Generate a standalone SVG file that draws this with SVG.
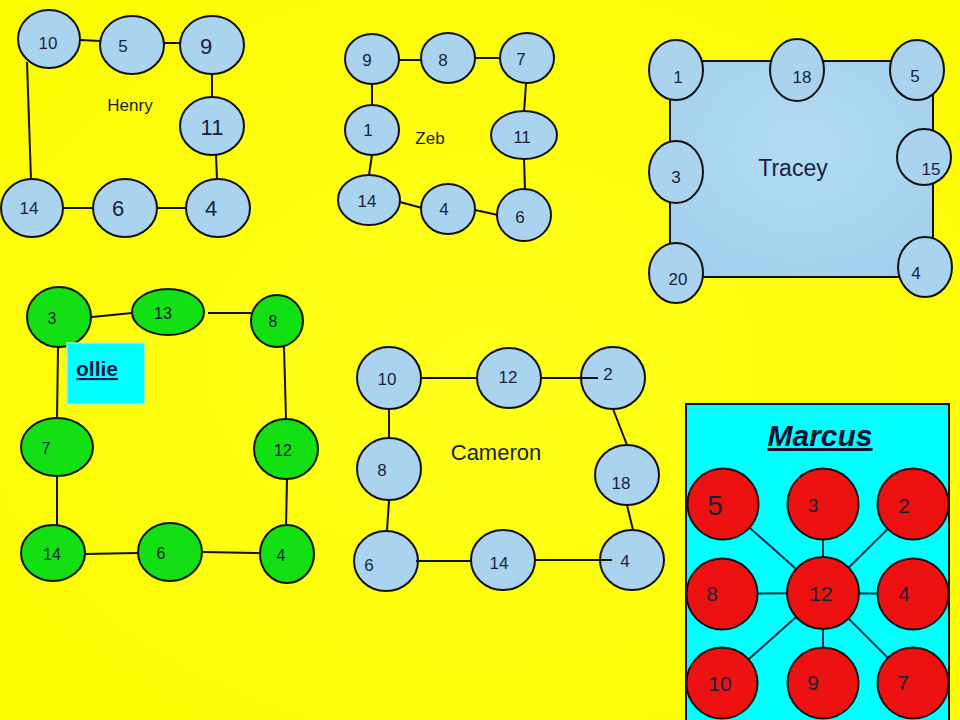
<svg xmlns="http://www.w3.org/2000/svg" width="960" height="720" viewBox="0 0 960 720">
<defs>
<radialGradient id="bg" cx="50%" cy="50%" r="70%">
<stop offset="0" stop-color="#ffff1a"/>
<stop offset="1" stop-color="#fbfb00"/>
</radialGradient>
<radialGradient id="tr" cx="50%" cy="40%" r="70%">
<stop offset="0" stop-color="#b2dcf4"/>
<stop offset="1" stop-color="#a2cfec"/>
</radialGradient>
</defs>
<style>
text{font-family:"Liberation Sans",Arial,sans-serif;fill:#1b1f3a;text-anchor:middle}
.b{fill:#a9d3ef;stroke:#111;stroke-width:2}
.g{fill:#12e012;stroke:#111;stroke-width:2}
.r{fill:#ee1111;stroke:#111;stroke-width:2}
.e line{stroke:#111;stroke-width:2}
.m line{stroke:#14324a;stroke-width:2}
.s{font-size:17px}
.L{font-size:22px}
.o{font-size:16px}
.mk{font-size:21px}
</style>
<rect width="960" height="720" fill="url(#bg)"/>

<!-- Henry -->
<g id="henry-edges" class="e">
<line x1="80" y1="40" x2="100" y2="41"/>
<line x1="163" y1="43" x2="180" y2="43"/>
<line x1="212" y1="74" x2="212" y2="97"/>
<line x1="216" y1="155" x2="217" y2="180"/>
<line x1="157" y1="208" x2="186" y2="208"/>
<line x1="63" y1="208" x2="93" y2="208"/>
<line x1="27" y1="62" x2="31" y2="180"/>
</g>
<g id="henry-10"><ellipse class="b" cx="49" cy="39" rx="31" ry="29"/><text class="s" x="48" y="49">10</text></g>
<g id="henry-5"><ellipse class="b" cx="132" cy="45" rx="32" ry="29"/><text class="s" x="123" y="52">5</text></g>
<g id="henry-9"><ellipse class="b" cx="212" cy="45" rx="32" ry="29"/><text class="L" x="206" y="54">9</text></g>
<g id="henry-11"><ellipse class="b" cx="212" cy="126" rx="32" ry="29"/><text class="L" x="212" y="135">11</text></g>
<g id="henry-4"><ellipse class="b" cx="218" cy="208" rx="32" ry="29"/><text class="L" x="211" y="216">4</text></g>
<g id="henry-6"><ellipse class="b" cx="125" cy="208" rx="32" ry="29"/><text class="L" x="118" y="216">6</text></g>
<g id="henry-14"><ellipse class="b" cx="32" cy="208" rx="31" ry="29"/><text class="s" x="29" y="214">14</text></g>
<text class="s" x="130" y="111">Henry</text>

<!-- Zeb -->
<g id="zeb-edges" class="e">
<line x1="399" y1="60" x2="421" y2="60"/>
<line x1="474" y1="58" x2="500" y2="58"/>
<line x1="526" y1="84" x2="524" y2="112"/>
<line x1="372" y1="84" x2="372" y2="104"/>
<line x1="372" y1="155" x2="369" y2="175"/>
<line x1="400" y1="202" x2="422" y2="208"/>
<line x1="475" y1="210" x2="498" y2="215"/>
<line x1="524" y1="159" x2="525" y2="190"/>
</g>
<g id="zeb-9"><ellipse class="b" cx="372" cy="59" rx="27" ry="25"/><text class="s" x="367" y="66">9</text></g>
<g id="zeb-8"><ellipse class="b" cx="448" cy="58" rx="27" ry="25"/><text class="s" x="443" y="66">8</text></g>
<g id="zeb-7"><ellipse class="b" cx="527" cy="58" rx="27" ry="25"/><text class="s" x="521" y="65">7</text></g>
<g id="zeb-1"><ellipse class="b" cx="372" cy="130" rx="27" ry="25"/><text class="s" x="368" y="136">1</text></g>
<g id="zeb-11"><ellipse class="b" cx="524" cy="135" rx="33" ry="24"/><text class="s" x="522" y="143">11</text></g>
<g id="zeb-14"><ellipse class="b" cx="369" cy="200" rx="31" ry="25"/><text class="s" x="367" y="207">14</text></g>
<g id="zeb-4"><ellipse class="b" cx="448" cy="209" rx="27" ry="25"/><text class="s" x="444" y="215">4</text></g>
<g id="zeb-6"><ellipse class="b" cx="524" cy="215" rx="27" ry="26"/><text class="s" x="520" y="223">6</text></g>
<text class="s" x="430" y="144">Zeb</text>

<!-- Tracey -->
<g id="tracey-area"><rect x="670" y="61" width="263" height="216" fill="url(#tr)" stroke="#111" stroke-width="2"/><text x="793" y="176" style="font-size:23px">Tracey</text></g>
<g id="tracey-1"><ellipse class="b" cx="676" cy="70" rx="27" ry="30"/><text class="s" x="678" y="83">1</text></g>
<g id="tracey-18"><ellipse class="b" cx="797" cy="70" rx="27" ry="31"/><text class="s" x="802" y="83">18</text></g>
<g id="tracey-5"><ellipse class="b" cx="917" cy="70" rx="27" ry="30"/><text class="s" x="915" y="82">5</text></g>
<g id="tracey-3"><ellipse class="b" cx="676" cy="172" rx="27" ry="31"/><text class="s" x="676" y="183">3</text></g>
<g id="tracey-15"><ellipse class="b" cx="924" cy="157" rx="27" ry="28"/><text class="s" x="931" y="175">15</text></g>
<g id="tracey-20"><ellipse class="b" cx="676" cy="273" rx="27" ry="30"/><text class="s" x="678" y="285">20</text></g>
<g id="tracey-4"><ellipse class="b" cx="925" cy="267" rx="27" ry="30"/><text class="s" x="916" y="279">4</text></g>

<!-- ollie -->
<g id="ollie-edges" class="e">
<line x1="92" y1="317" x2="132" y2="313"/>
<line x1="208" y1="313" x2="251" y2="313"/>
<line x1="58" y1="348" x2="57" y2="418"/>
<line x1="284" y1="347" x2="286" y2="419"/>
<line x1="57" y1="477" x2="57" y2="525"/>
<line x1="287" y1="479" x2="286" y2="527"/>
<line x1="85" y1="554" x2="138" y2="553"/>
<line x1="202" y1="552" x2="260" y2="553"/>
</g>
<g id="ollie-3"><ellipse class="g" cx="59" cy="317" rx="32" ry="30"/><text class="o" x="52" y="324">3</text></g>
<g id="ollie-13"><ellipse class="g" cx="168" cy="312" rx="36" ry="23"/><text class="o" x="163" y="319">13</text></g>
<g id="ollie-8"><ellipse class="g" cx="277" cy="321" rx="26" ry="26"/><text class="o" x="273" y="327">8</text></g>
<g id="ollie-7"><ellipse class="g" cx="57" cy="447" rx="36" ry="29"/><text class="o" x="46" y="454">7</text></g>
<g id="ollie-12"><ellipse class="g" cx="286" cy="449" rx="32" ry="30"/><text class="o" x="283" y="456">12</text></g>
<g id="ollie-14"><ellipse class="g" cx="53" cy="553" rx="32" ry="28"/><text class="o" x="52" y="560">14</text></g>
<g id="ollie-6"><ellipse class="g" cx="170" cy="552" rx="32" ry="29"/><text class="o" x="161" y="559">6</text></g>
<g id="ollie-4"><ellipse class="g" cx="287" cy="554" rx="27" ry="29"/><text class="o" x="281" y="561">4</text></g>
<g id="ollie-label"><rect x="67" y="343" width="78" height="61" fill="#00ffff" stroke="#c8e8a0" stroke-width="1.5"/><text x="76" y="376" style="font-size:21px;font-weight:bold;text-anchor:start;text-decoration:underline;fill:#0d1a4a">ollie</text></g>

<!-- Cameron -->
<g id="cameron-10"><ellipse class="b" cx="389" cy="378" rx="32" ry="31"/><text class="s" x="387" y="385">10</text></g>
<g id="cameron-12"><ellipse class="b" cx="509" cy="378" rx="32" ry="30"/><text class="s" x="508" y="383">12</text></g>
<g id="cameron-2"><ellipse class="b" cx="613" cy="378" rx="32" ry="31"/><text class="s" x="608" y="380">2</text></g>
<g id="cameron-8"><ellipse class="b" cx="389" cy="469" rx="32" ry="31"/><text class="s" x="382" y="476">8</text></g>
<g id="cameron-18"><ellipse class="b" cx="627" cy="475" rx="32" ry="30"/><text class="s" x="621" y="489">18</text></g>
<g id="cameron-6"><ellipse class="b" cx="386" cy="561" rx="32" ry="30"/><text class="s" x="369" y="571">6</text></g>
<g id="cameron-14"><ellipse class="b" cx="503" cy="560" rx="32" ry="30"/><text class="s" x="499" y="569">14</text></g>
<g id="cameron-4"><ellipse class="b" cx="632" cy="560" rx="32" ry="30"/><text class="s" x="625" y="567">4</text></g>
<g id="cameron-edges" class="e">
<line x1="420" y1="378" x2="477" y2="378"/>
<line x1="541" y1="378" x2="598" y2="378"/>
<line x1="613" y1="409" x2="627" y2="445"/>
<line x1="627" y1="505" x2="633" y2="530"/>
<line x1="389" y1="409" x2="389" y2="438"/>
<line x1="389" y1="500" x2="387" y2="531"/>
<line x1="416" y1="561" x2="471" y2="561"/>
<line x1="535" y1="560" x2="612" y2="560"/>
</g>
<text x="496" y="460" style="font-size:22px">Cameron</text>

<!-- Marcus -->
<g id="marcus-panel"><rect x="686" y="404" width="263" height="320" fill="#00ffff" stroke="#111" stroke-width="2"/><text x="820" y="446" style="font-size:30px;font-weight:bold;font-style:italic;text-decoration:underline;fill:#0d1430">Marcus</text></g>
<g id="marcus-edges" class="m">
<line x1="823" y1="593" x2="723" y2="504"/>
<line x1="823" y1="593" x2="823" y2="504"/>
<line x1="823" y1="593" x2="913" y2="504"/>
<line x1="823" y1="593" x2="722" y2="594"/>
<line x1="823" y1="593" x2="913" y2="594"/>
<line x1="823" y1="593" x2="722" y2="683"/>
<line x1="823" y1="593" x2="823" y2="683"/>
<line x1="823" y1="593" x2="913" y2="683"/>
</g>
<g id="marcus-5"><circle class="r" cx="723" cy="504" r="35.5"/><text x="715" y="515" style="font-size:28px">5</text></g>
<g id="marcus-3"><circle class="r" cx="823" cy="504" r="35.5"/><text x="813" y="512" style="font-size:19px">3</text></g>
<g id="marcus-2"><circle class="r" cx="913" cy="504" r="35.5"/><text class="mk" x="904" y="513">2</text></g>
<g id="marcus-8"><circle class="r" cx="722" cy="594" r="35.5"/><text class="mk" x="712" y="601">8</text></g>
<g id="marcus-12"><circle class="r" cx="823" cy="593" r="36"/><text class="mk" x="821" y="601">12</text></g>
<g id="marcus-4"><circle class="r" cx="913" cy="594" r="35.5"/><text class="mk" x="904" y="601">4</text></g>
<g id="marcus-10"><circle class="r" cx="722" cy="683" r="35.5"/><text class="mk" x="720" y="691">10</text></g>
<g id="marcus-9"><circle class="r" cx="823" cy="683" r="35.5"/><text class="mk" x="813" y="690">9</text></g>
<g id="marcus-7"><circle class="r" cx="913" cy="683" r="35.5"/><text class="mk" x="903" y="690">7</text></g>
</svg>
